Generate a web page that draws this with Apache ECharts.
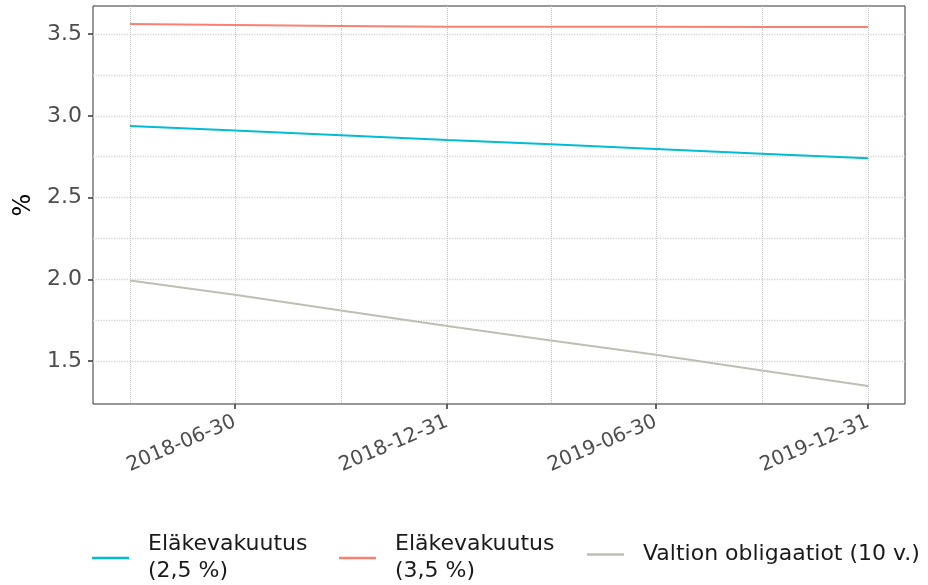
<!DOCTYPE html>
<html>
<head>
<meta charset="utf-8">
<script src="https://cdn.jsdelivr.net/npm/echarts@6/dist/echarts.min.js"></script>
<style>html,body{margin:0;padding:0;background:#fff}#c{width:928px;height:585px}</style>
</head>
<body>
<div id="c"></div>
<script>
const dates = ['2018-03-31','2018-06-30','2018-09-30','2018-12-31','2019-03-31','2019-06-30','2019-09-30','2019-12-31'];
const seriesNames = ['Eläkevakuutus\n(2,5 %)', 'Eläkevakuutus\n(3,5 %)', 'Valtion obligaatiot (10 v.)'];
const blueVals = [2.938, 2.910, 2.882, 2.853, 2.826, 2.797, 2.769, 2.741];
const redVals = [3.561, 3.556, 3.550, 3.544, 3.544, 3.544, 3.543, 3.543];
const greyVals = [1.994, 1.906, 1.810, 1.715, 1.627, 1.539, 1.443, 1.349];
const xTickLabels = ['2018-06-30','2018-12-31','2019-06-30','2019-12-31'];
const xGridDates = ['2018-03-31','2018-06-30','2018-09-30','2018-12-31','2019-03-31','2019-06-30','2019-09-30','2019-12-31'];
const yTickLabels = [1.5, 2.0, 2.5, 3.0, 3.5];
const yGridValues = [1.5, 1.75, 2.0, 2.25, 2.5, 2.75, 3.0, 3.25, 3.5];

const ts = d => { const p = d.split('-').map(Number); return Date.UTC(p[0], p[1]-1, p[2]); };
const fmt = v => { const d = new Date(v); const z = n => (n<10?'0':'')+n; return d.getUTCFullYear()+'-'+z(d.getUTCMonth()+1)+'-'+z(d.getUTCDate()); };

const t0 = ts(dates[0]), t1 = ts(dates[dates.length-1]);
const xMin = t0 - 0.05*(t1-t0), xMax = t1 + 0.05*(t1-t0);
const allV = blueVals.concat(redVals, greyVals);
const vMin = Math.min(...allV), vMax = Math.max(...allV);
const yMin = vMin - 0.05*(vMax-vMin), yMax = vMax + 0.05*(vMax-vMin);

const colors = ['#00BCD4', '#FA8072', '#BDBFB3'];
const FONT = 'DejaVu Sans';
const mk = (vals) => dates.map((d,i) => [ts(d), vals[i]]);

const chart = echarts.init(document.getElementById('c'), null, {renderer:'canvas'});
const legendBase = (name, left, top) => ({
  data: [name], left: left, top: top, orient: 'horizontal',
  icon: 'rect', itemWidth: 37, itemHeight: 2.5, padding: 0,
  textStyle: {fontFamily: FONT, fontSize: 22, color: '#1a1a1a', lineHeight: 27, padding: [0,0,0,14]}
});
chart.setOption({
  animation: false,
  color: colors,
  grid: {left: 93, right: 23, top: 6, bottom: 181, show: true, borderColor: '#333', borderWidth: 1, backgroundColor: 'transparent'},
  legend: [
    legendBase(seriesNames[0], 92, 531),
    legendBase(seriesNames[1], 339, 531),
    legendBase(seriesNames[2], 587, 541)
  ],
  xAxis: [
    {type: 'value', min: xMin, max: xMax, axisLine: {show: false},
     axisTick: {show: false, customValues: xGridDates.map(ts)}, axisLabel: {show: false},
     splitLine: {show: true, lineStyle: {color: '#c4c4c4', type: 'dotted', width: 1}}},
    {type: 'value', min: xMin, max: xMax, position: 'bottom', axisLine: {show: false},
     axisTick: {show: true, length: 5, customValues: xTickLabels.map(ts), lineStyle: {color: '#333', width: 1.5}},
     axisLabel: {show: true, customValues: xTickLabels.map(ts), formatter: v => fmt(v), rotate: 23, margin: 17,
       fontFamily: FONT, fontSize: 20, color: '#4d4d4d'},
     splitLine: {show: false}}
  ],
  yAxis: [
    {type: 'value', min: yMin, max: yMax, axisLine: {show: false},
     axisTick: {show: false, customValues: yGridValues}, axisLabel: {show: false},
     splitLine: {show: true, lineStyle: {color: '#d4d4d4', type: 'dotted', width: 1.3}}},
    {type: 'value', min: yMin, max: yMax, position: 'left', axisLine: {show: false},
     name: '%', nameLocation: 'middle', nameGap: 57, nameRotate: 90,
     nameTextStyle: {fontFamily: FONT, fontSize: 24, color: '#000'},
     axisTick: {show: true, length: 5, customValues: yTickLabels, lineStyle: {color: '#333', width: 1.5}},
     axisLabel: {show: true, customValues: yTickLabels, formatter: v => v.toFixed(1), margin: 11,
       fontFamily: FONT, fontSize: 22, color: '#4d4d4d'},
     splitLine: {show: false}}
  ],
  series: [
    {name: seriesNames[0], type: 'line', data: mk(blueVals), showSymbol: false, xAxisIndex: 0, yAxisIndex: 0, lineStyle: {width: 2}},
    {name: seriesNames[1], type: 'line', data: mk(redVals), showSymbol: false, xAxisIndex: 0, yAxisIndex: 0, lineStyle: {width: 2}},
    {name: seriesNames[2], type: 'line', data: mk(greyVals), showSymbol: false, xAxisIndex: 0, yAxisIndex: 0, lineStyle: {width: 2}}
  ]
});
</script>
</body>
</html>
